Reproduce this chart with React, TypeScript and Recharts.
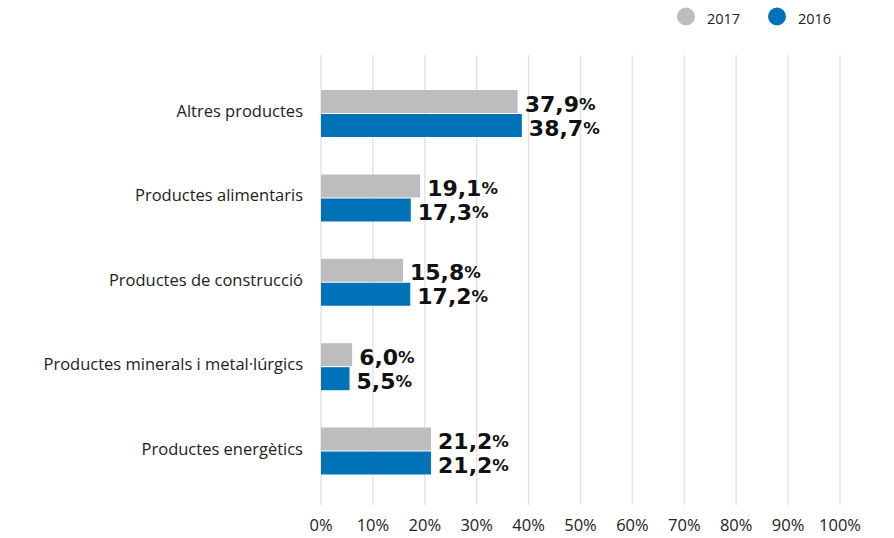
import React from "react";
import {
  Bar,
  BarChart,
  CartesianGrid,
  LabelList,
  XAxis,
  YAxis,
} from "recharts";

const categories = [
  "Altres productes",
  "Productes alimentaris",
  "Productes de construcció",
  "Productes minerals i metal·lúrgics",
  "Productes energètics",
];
const values2017 = [37.9, 19.1, 15.8, 6.0, 21.2];
const values2016 = [38.7, 17.3, 17.2, 5.5, 21.2];
const xTicks = [0, 10, 20, 30, 40, 50, 60, 70, 80, 90, 100];

const GREY = "#bdbdbf";
const BLUE = "#0072b8";
const FONT = "'Open Sans', 'Noto Sans', sans-serif";
const LABEL_FONT = "'DejaVu Sans', sans-serif";

const data = categories.map((name, i) => ({
  name,
  y2017: values2017[i],
  y2016: values2016[i],
}));

const fmt = (v: number) => v.toFixed(1).replace(".", ",");

function ValueLabel(props: any) {
  const { x, y, width, height, value } = props;
  return (
    <text
      x={x + width + 7}
      y={y + height / 2 + 2}
      dominantBaseline="central"
      fontFamily={LABEL_FONT}
      fill="#111"
      fontWeight={700}
    >
      <tspan fontSize={22}>{fmt(value)}</tspan>
      <tspan fontSize={16.5}>%</tspan>
    </text>
  );
}

function Legend() {
  const items = [
    { label: "2017", color: GREY, cx: 686 },
    { label: "2016", color: BLUE, cx: 777 },
  ];
  return (
    <svg
      width={894}
      height={34}
      style={{ position: "absolute", left: 0, top: 0 }}
    >
      {items.map((it) => (
        <g key={it.label}>
          <circle cx={it.cx} cy={16.5} r={9} fill={it.color} />
          <text
            x={it.cx + 21}
            y={18}
            dominantBaseline="central"
            fontFamily={FONT}
            fontSize={14.5}
            fill="#222"
          >
            {it.label}
          </text>
        </g>
      ))}
    </svg>
  );
}

export default function App() {
  return (
    <div style={{ position: "relative", width: 894, height: 538 }}>
      <style>{"body{margin:0}"}</style>
      <BarChart
        width={894}
        height={538}
        data={data}
        layout="vertical"
        margin={{ top: 55, right: 54, bottom: 0, left: 0 }}
        barSize={23}
        barGap={1}
      >
        <CartesianGrid
          horizontal={false}
          stroke="#e4e4e4"
          strokeWidth={1.5}
        />
        <XAxis
          type="number"
          domain={[0, 100]}
          ticks={xTicks}
          tickFormatter={(v) => `${v}%`}
          axisLine={false}
          tickLine={false}
          height={33}
          tickMargin={8}
          tick={{ fontFamily: FONT, fontSize: 16.5, fill: "#222" }}
          interval={0}
        />
        <YAxis
          type="category"
          dataKey="name"
          width={321}
          axisLine={false}
          tickLine={false}
          tickMargin={12}
          padding={{ top: 16, bottom: 12 }}
          tick={{ fontFamily: FONT, fontSize: 16.5, fill: "#222", dy: -2 }}
        />
        <Bar dataKey="y2017" fill={GREY} isAnimationActive={false}>
          <LabelList dataKey="y2017" content={<ValueLabel />} />
        </Bar>
        <Bar dataKey="y2016" fill={BLUE} isAnimationActive={false}>
          <LabelList dataKey="y2016" content={<ValueLabel />} />
        </Bar>
      </BarChart>
      <Legend />
    </div>
  );
}
